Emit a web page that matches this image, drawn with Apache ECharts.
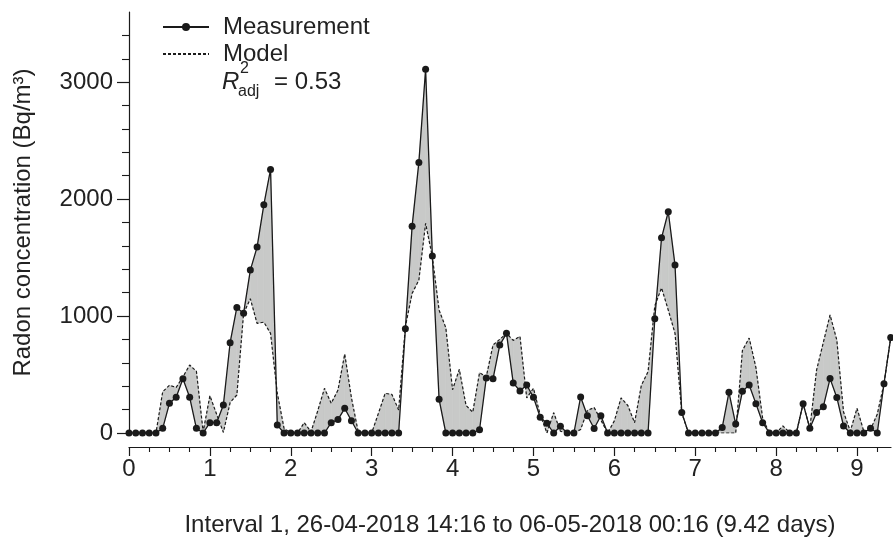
<!DOCTYPE html>
<html>
<head>
<meta charset="utf-8">
<script src="https://cdn.jsdelivr.net/npm/echarts@6/dist/echarts.min.js"></script>
<style>
  html, body { margin: 0; padding: 0; background: #ffffff; }
  #chart { width: 893px; height: 542px; }
</style>
</head>
<body>
<div id="chart"></div>
<script>
// Radon concentration, one sample every 2 hours over interval 1
const sampleHours = 2;

const measurement = [
  0, 0, 0, 0, 0, 40, 254, 305, 464, 305,
  40, 0, 88, 88, 239, 772, 1074, 1023, 1393, 1590,
  1951, 2254, 68, 0, 0, 0, 0, 0, 0, 0,
  88, 115, 211, 105, 0, 0, 0, 0, 0, 0,
  0, 892, 1769, 2314, 3111, 1513, 288, 0, 0, 0,
  0, 0, 28, 470, 463, 752, 852, 428, 359, 410,
  305, 134, 83, 0, 57, 0, 0, 308, 148, 38,
  148, 0, 0, 0, 0, 0, 0, 0, 977, 1669,
  1892, 1436, 176, 0, 0, 0, 0, 0, 46, 348,
  76, 356, 410, 251, 88, 0, 0, 0, 0, 0,
  251, 40, 176, 225, 465, 304, 60, 0, 0, 0,
  40, 0, 422, 816
];

const model = [
  0, 0, 0, 0, 0, 353, 408, 390, 480, 581,
  528, 10, 319, 160, 5, 260, 325, 1023, 1148, 937,
  948, 852, 340, 40, 0, 0, 88, 10, 190, 382,
  254, 367, 675, 300, 10, 0, 0, 168, 339, 330,
  197, 910, 1194, 1308, 1792, 1507, 1051, 900, 370, 544,
  235, 178, 516, 481, 752, 801, 852, 792, 826, 300,
  382, 155, 0, 174, 15, 0, 0, 30, 192, 218,
  111, 0, 104, 300, 235, 88, 406, 524, 1087, 1241,
  1051, 852, 170, 0, 0, 0, 0, 0, 0, 0,
  0, 706, 812, 560, 125, 0, 0, 60, 5, 0,
  251, 40, 538, 774, 1009, 795, 180, 15, 211, 15,
  30, 160, 422, 816
];

const xTickValues = [0, 1, 2, 3, 4, 5, 6, 7, 8, 9];
const yTickValues = [0, 1000, 2000, 3000];
const xAxisTitle = 'Interval 1, 26-04-2018 14:16 to 06-05-2018 00:16 (9.42 days)';
const yAxisTitle = 'Radon concentration (Bq/m\u00B3)';
const seriesNames = ['Measurement', 'Model'];
const fitLabel = { value: '= 0.53' };

const days = measurement.map((_, i) => i * sampleHours / 24);
const measPoints = measurement.map((v, i) => [days[i], v]);
const modelPoints = model.map((v, i) => [days[i], v]);

// one quad per sampling step, spanning the gap between the two curves
const bandSegments = [];
for (let i = 0; i < days.length - 1; i++) {
  bandSegments.push([days[i], measurement[i], days[i + 1], measurement[i + 1], model[i + 1], model[i]]);
}

const ink = '#1a1a1a';
const textInk = '#222222';
const font = 'Liberation Sans, Arial, Helvetica, sans-serif';

const chart = echarts.init(document.getElementById('chart'), null, { renderer: 'canvas' });

chart.setOption({
  animation: false,
  backgroundColor: '#ffffff',
  textStyle: { fontFamily: font },
  grid: { left: 129, top: 12, right: 2, bottom: 109, containLabel: false },
  legend: {
    data: [
      { name: seriesNames[0] },
      { name: seriesNames[1], itemStyle: { color: 'rgba(0,0,0,0)', borderWidth: 0 } }
    ],
    orient: 'vertical',
    left: 162,
    top: 15,
    itemWidth: 46,
    itemHeight: 10,
    itemGap: 3,
    padding: 0,
    selectedMode: false,
    textStyle: { fontSize: 24, color: textInk, fontFamily: font, padding: [0, 0, 0, 9] }
  },
  xAxis: {
    type: 'value',
    min: 0,
    max: 9.42,
    interval: 1,
    offset: 14,
    axisLine: { show: true, onZero: false, lineStyle: { color: ink, width: 1.2 } },
    axisTick: { show: true, length: 9, customValues: xTickValues, lineStyle: { color: ink, width: 1.2 } },
    minorTick: { show: true, splitNumber: 4, length: 5, lineStyle: { color: ink, width: 1.1 } },
    axisLabel: { fontSize: 24, color: textInk, margin: 10, customValues: xTickValues, fontFamily: font,
                 formatter: (v) => String(v) },
    splitLine: { show: false },
    minorSplitLine: { show: false },
    name: xAxisTitle,
    nameLocation: 'middle',
    nameGap: 66,
    nameTextStyle: { fontSize: 24, color: textInk, fontFamily: font }
  },
  yAxis: {
    type: 'value',
    min: 0,
    max: 3600,
    interval: 1000,
    axisLine: { show: true, onZero: false, lineStyle: { color: ink, width: 1.2 } },
    axisTick: { show: true, length: 12, customValues: yTickValues, lineStyle: { color: ink, width: 1.2 } },
    minorTick: { show: true, splitNumber: 5, length: 7, lineStyle: { color: ink, width: 1.1 } },
    axisLabel: { fontSize: 24, color: textInk, margin: 16, customValues: yTickValues, fontFamily: font,
                 formatter: (v) => String(v) },
    splitLine: { show: false },
    minorSplitLine: { show: false },
    name: yAxisTitle,
    nameLocation: 'middle',
    nameGap: 94,
    nameTextStyle: { fontSize: 24, color: textInk, fontFamily: font }
  },
  graphic: [
    { type: 'text', left: 222, top: 70, style: { text: 'R', fontSize: 24, fontStyle: 'italic', fill: textInk, fontFamily: font } },
    { type: 'text', left: 240, top: 61, style: { text: '2', fontSize: 16, fill: textInk, fontFamily: font } },
    { type: 'text', left: 238, top: 84, style: { text: 'adj', fontSize: 16, fill: textInk, fontFamily: font } },
    { type: 'text', left: 274, top: 70, style: { text: fitLabel.value, fontSize: 24, fill: textInk, fontFamily: font } }
  ],
  series: [
    {
      name: 'band',
      type: 'custom',
      silent: true,
      z: 1,
      data: bandSegments,
      encode: { x: [0, 2], y: [1, 3, 4, 5] },
      renderItem: function (params, api) {
        const a = api.coord([api.value(0), api.value(1)]);
        const b = api.coord([api.value(2), api.value(3)]);
        const c = api.coord([api.value(2), api.value(4)]);
        const d = api.coord([api.value(0), api.value(5)]);
        return {
          type: 'polygon',
          shape: { points: [a, b, c, d] },
          style: { fill: '#c8c9c8', stroke: '#c8c9c8', lineWidth: 0.6 }
        };
      }
    },
    {
      name: 'Model',
      type: 'line',
      z: 3,
      data: modelPoints,
      showSymbol: false,
      symbol: 'none',
      lineStyle: { color: ink, width: 1.2, type: [3, 2] },
      itemStyle: { color: ink }
    },
    {
      name: 'Measurement',
      type: 'line',
      z: 4,
      data: measPoints,
      symbol: 'circle',
      symbolSize: 7,
      showAllSymbol: true,
      lineStyle: { color: ink, width: 1.3 },
      itemStyle: { color: ink }
    }
  ]
});
</script>
</body>
</html>
